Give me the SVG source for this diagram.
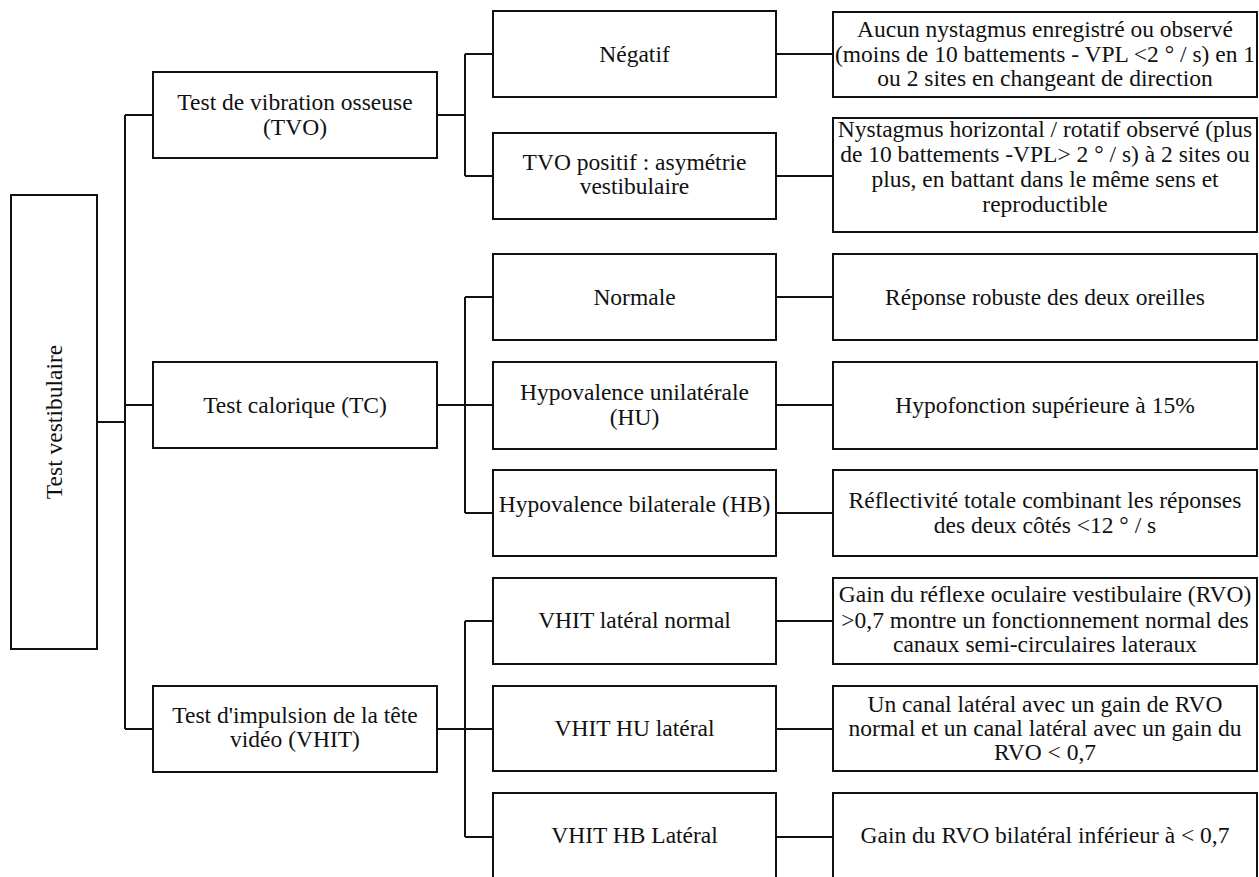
<svg xmlns="http://www.w3.org/2000/svg" width="1259" height="877" viewBox="0 0 1259 877">
<style>
rect{fill:#fff;stroke:#111;stroke-width:2}
text{font-size:23.5px;fill:#111;text-anchor:middle}
.c path{fill:none;stroke:#111;stroke-width:2}
</style>
<g font-family="'Liberation Serif', 'DejaVu Serif', serif">
<g class="c" id="connectors">
<path d="M97,422H125M125,115V729M125,115H153M125,405H153M125,729H153"/>
<path d="M437,115H465M465,54V176M465,54H493M465,176H493"/>
<path d="M437,405H465M465,297V513M465,297H493M465,405H493M465,513H493"/>
<path d="M437,729H465M465,621V837M465,621H493M465,729H493M465,837H493"/>
<path d="M776,54H833M776,176H833M776,297H833M776,405H833M776,513H833M776,621H833M776,729H833M776,837H833"/>
</g>
<g id="root"><rect x="11" y="195" width="86" height="454"/><text transform="translate(62,422) rotate(-90)">Test vestibulaire</text></g>
<g id="tvo"><rect x="153" y="72" width="284" height="86"/><text x="295" y="110">Test de vibration osseuse</text><text x="295" y="135">(TVO)</text></g>
<g id="tc"><rect x="153" y="362" width="284" height="86"/><text x="295" y="413">Test calorique (TC)</text></g>
<g id="vhit"><rect x="153" y="686" width="284" height="86"/><text x="295" y="723">Test d'impulsion de la tête</text><text x="295" y="747">vidéo (VHIT)</text></g>
<g id="negatif"><rect x="493" y="11" width="283" height="86"/><text x="634.5" y="62">Négatif</text></g>
<g id="tvo-positif"><rect x="493" y="133" width="283" height="86"/><text x="634.5" y="170">TVO positif : asymétrie</text><text x="634.5" y="194">vestibulaire</text></g>
<g id="normale"><rect x="493" y="254" width="283" height="86"/><text x="634.5" y="305">Normale</text></g>
<g id="hu"><rect x="493" y="362" width="283" height="87"/><text x="634.5" y="400">Hypovalence unilatérale</text><text x="634.5" y="425">(HU)</text></g>
<g id="hb"><rect x="493" y="470" width="283" height="86"/><text x="634.5" y="512">Hypovalence bilaterale (HB)</text></g>
<g id="vhit-normal"><rect x="493" y="578" width="283" height="86"/><text x="634.5" y="628">VHIT latéral normal</text></g>
<g id="vhit-hu"><rect x="493" y="686" width="283" height="85"/><text x="634.5" y="736">VHIT HU latéral</text></g>
<g id="vhit-hb"><rect x="493" y="793" width="283" height="86"/><text x="634.5" y="843">VHIT HB Latéral</text></g>
<g id="r-negatif"><rect x="833" y="12" width="424" height="85"/><text x="1045" y="37">Aucun nystagmus enregistré ou observé</text><text x="1045" y="62">(moins de 10 battements - VPL &lt;2 ° / s) en 1</text><text x="1045" y="86">ou 2 sites en changeant de direction</text></g>
<g id="r-positif"><rect x="833" y="118" width="424" height="114"/><text x="1045" y="137">Nystagmus horizontal / rotatif observé (plus</text><text x="1045" y="162">de 10 battements -VPL&gt; 2 ° / s) à 2 sites ou</text><text x="1045" y="187">plus, en battant dans le même sens et</text><text x="1045" y="212">reproductible</text></g>
<g id="r-normale"><rect x="833" y="254" width="424" height="86"/><text x="1045" y="305">Réponse robuste des deux oreilles</text></g>
<g id="r-hu"><rect x="833" y="362" width="424" height="87"/><text x="1045" y="413">Hypofonction supérieure à 15%</text></g>
<g id="r-hb"><rect x="833" y="470" width="424" height="86"/><text x="1045" y="508">Réflectivité totale combinant les réponses</text><text x="1045" y="533">des deux côtés &lt;12 ° / s</text></g>
<g id="r-vhit-normal"><rect x="833" y="578" width="424" height="86"/><text x="1045" y="602">Gain du réflexe oculaire vestibulaire (RVO)</text><text x="1045" y="628">&gt;0,7 montre un fonctionnement normal des</text><text x="1045" y="652">canaux semi-circulaires lateraux</text></g>
<g id="r-vhit-hu"><rect x="833" y="686" width="424" height="85"/><text x="1045" y="712">Un canal latéral avec un gain de RVO</text><text x="1045" y="736">normal et un canal latéral avec un gain du</text><text x="1045" y="760">RVO &lt; 0,7</text></g>
<g id="r-vhit-hb"><rect x="833" y="793" width="424" height="86"/><text x="1045" y="843">Gain du RVO bilatéral inférieur à &lt; 0,7</text></g>
</g>
</svg>
